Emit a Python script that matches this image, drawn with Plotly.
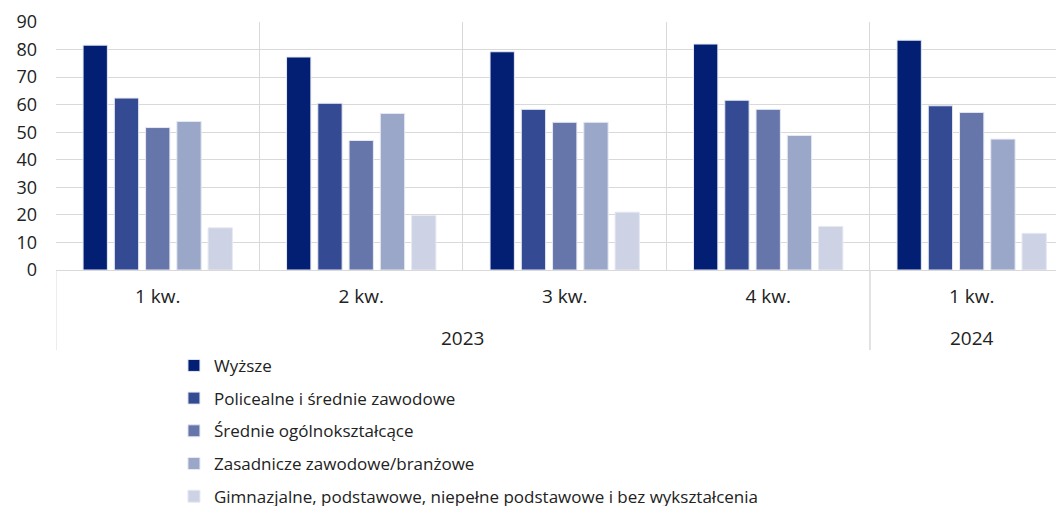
import plotly.graph_objects as go

years = ["2023", "2023", "2023", "2023", "2024"]
quarters = ["1 kw.", "2 kw.", "3 kw.", "4 kw.", "1 kw."]

series_names = [
    "Wyższe",
    "Policealne i średnie zawodowe",
    "Średnie ogólnokształcące",
    "Zasadnicze zawodowe/branżowe",
    "Gimnazjalne, podstawowe, niepełne podstawowe i bez wykształcenia",
]
wyzsze = [81.6, 77.3, 79.2, 82.0, 83.4]
policealne = [62.4, 60.5, 58.3, 61.6, 59.6]
srednie_ogolne = [51.7, 47.0, 53.6, 58.3, 57.2]
zasadnicze = [53.9, 56.8, 53.6, 48.8, 47.5]
gimnazjalne = [15.3, 19.8, 21.0, 15.8, 13.3]
series_values = [wyzsze, policealne, srednie_ogolne, zasadnicze, gimnazjalne]
colors = ["#021F73", "#344A92", "#6676AA", "#9AA7C9", "#CDD3E5"]

FONT = "Open Sans, Roboto, sans-serif"
GRID = "#D9D9D9"
TEXT = "#222222"
idx = list(range(len(quarters)))

fig = go.Figure()
for i, (name, vals, col) in enumerate(zip(series_names, series_values, colors)):
    fig.add_trace(go.Bar(
        x=idx, y=vals, name=name,
        marker=dict(color=col, line=dict(color="#E6E9F2", width=1)),
        legendgroup=f"g{i}",
    ))

# year group labels and dividers
groups = []
for i, y in enumerate(years):
    if not groups or groups[-1][0] != y:
        groups.append([y, i, i])
    else:
        groups[-1][2] = i
div_bottom = -0.323
for y, a, b in groups:
    fig.add_annotation(x=(a + b) / 2, y=-0.274, xref="x", yref="paper",
                       text=y, showarrow=False, yanchor="middle",
                       font=dict(size=19, family=FONT, color=TEXT))
    for xv in (a - 0.5, b + 0.5):
        fig.add_shape(type="line", xref="x", yref="paper", x0=xv, x1=xv,
                      y0=0, y1=div_bottom, line=dict(color=GRID, width=1))

fig.update_layout(
    width=1064, height=520,
    barmode="group", bargap=0.232, bargroupgap=0.222,
    plot_bgcolor="white", paper_bgcolor="white",
    margin=dict(l=48, r=0, t=14, b=258),
    font=dict(family=FONT, size=18, color=TEXT),
    showlegend=True,
    legend=dict(
        orientation="v",
        x=0.1161, xanchor="left", y=-0.314, yanchor="top",
        font=dict(family=FONT, size=17, color=TEXT),
        tracegroupgap=7.6, itemwidth=30,
        bgcolor="rgba(0,0,0,0)",
    ),
)
fig.update_yaxes(
    range=[0, 90], dtick=10, showgrid=True, gridcolor=GRID, gridwidth=1,
    zeroline=False, showline=False, ticks="", ticklabelstandoff=18,
    automargin=False, tickfont=dict(size=18),
)
fig.update_xaxes(
    range=[-0.5, 4.493], tickvals=idx, ticktext=quarters,
    showgrid=False, zeroline=False,
    minor=dict(tickvals=[i - 0.5 for i in idx], showgrid=True,
               gridcolor=GRID, gridwidth=1, ticks=""),
    showline=True, linecolor=GRID, linewidth=1,
    ticks="", ticklabelstandoff=9, automargin=False,
    tickfont=dict(size=19),
)

fig.write_html("out.html")
